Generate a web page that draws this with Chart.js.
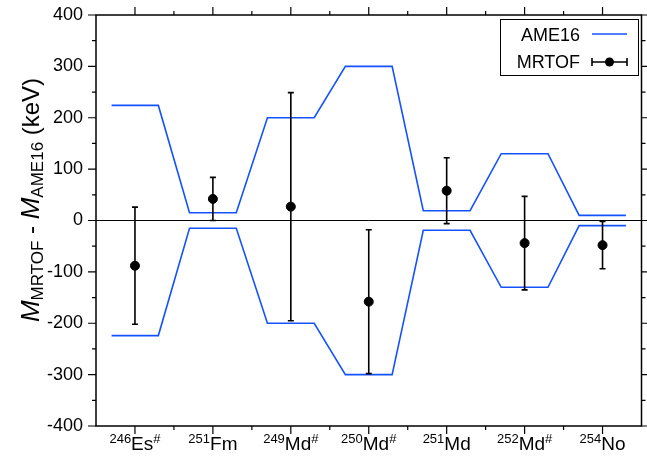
<!DOCTYPE html>
<html>
<head>
<meta charset="utf-8">
<script src="https://cdn.jsdelivr.net/npm/chart.js@4.4.1/dist/chart.umd.min.js"></script>
<style>
  html, body { margin: 0; padding: 0; background: #fff; }
  #wrap { width: 647px; height: 459px; }
</style>
</head>
<body>
<div id="wrap"><canvas id="chart"></canvas></div>
<script>
// nuclides, in plot order
const massNumbers = ['246', '251', '249', '250', '251', '252', '254'];
const elements = ['Es', 'Fm', 'Md', 'Md', 'Md', 'Md', 'No'];
const extrapolated = [true, false, true, true, false, true, false]; // '#' marks
// AME16 uncertainty band (keV), drawn as +/-
const ame16Unc = [224, 15, 200, 300, 19, 130, 10];
// MRTOF - AME16 (keV) and its error
const mrtofDiff = [-88, 42, 27, -158, 58, -44, -48];
const mrtofErr = [114, 42, 222, 140, 64, 91, 46];
const yTicks = [-400, -300, -200, -100, 0, 100, 200, 300, 400];

const BLUE = '#1552ff';
const FONT = 'Helvetica, "Liberation Sans", Arial, sans-serif';
const halfWidth = 0.3;

const upper = [], lower = [];
ame16Unc.forEach((u, i) => {
  upper.push({ x: i - halfWidth, y: u }, { x: i + halfWidth, y: u });
  lower.push({ x: i - halfWidth, y: -u }, { x: i + halfWidth, y: -u });
});
const points = mrtofDiff.map((v, i) => ({ x: i, y: v }));

const framePlugin = {
  id: 'frame',
  beforeDatasetsDraw(chart) {
    const { ctx, chartArea: a, scales: { y } } = chart;
    const y0 = y.getPixelForValue(0);
    ctx.save();
    ctx.strokeStyle = '#000';
    ctx.lineWidth = 1;
    ctx.beginPath();
    ctx.moveTo(a.left, y0);
    ctx.lineTo(a.right, y0);
    ctx.stroke();
    ctx.restore();
  },
  afterDatasetsDraw(chart) {
    const { ctx, scales: { x, y } } = chart;
    ctx.save();
    ctx.strokeStyle = '#000';
    ctx.lineWidth = 1.6;
    mrtofDiff.forEach((v, i) => {
      const px = x.getPixelForValue(i);
      const top = y.getPixelForValue(v + mrtofErr[i]);
      const bot = y.getPixelForValue(v - mrtofErr[i]);
      ctx.beginPath();
      ctx.moveTo(px, top); ctx.lineTo(px, bot);
      ctx.moveTo(px - 3, top); ctx.lineTo(px + 3, top);
      ctx.moveTo(px - 3, bot); ctx.lineTo(px + 3, bot);
      ctx.stroke();
    });
    ctx.restore();
  },
  afterDraw(chart) {
    const { ctx, chartArea: a, scales: { x, y } } = chart;
    ctx.save();
    ctx.strokeStyle = '#000';
    ctx.lineWidth = 1.5;
    ctx.strokeRect(a.left, a.top, a.right - a.left, a.bottom - a.top);

    // ticks, all outward
    ctx.lineWidth = 1.2;
    ctx.beginPath();
    for (let v = -400; v <= 400; v += 50) {
      const py = y.getPixelForValue(v);
      const len = v % 100 === 0 ? 8 : 4;
      ctx.moveTo(a.left, py); ctx.lineTo(a.left - len, py);
      ctx.moveTo(a.right, py); ctx.lineTo(a.right + len, py);
    }
    for (let v = 0; v <= 6; v += 0.5) {
      const px = x.getPixelForValue(v);
      const len = Number.isInteger(v) ? 8 : 4;
      ctx.moveTo(px, a.bottom); ctx.lineTo(px, a.bottom + len);
      ctx.moveTo(px, a.top); ctx.lineTo(px, a.top - len);
    }
    ctx.stroke();

    // category labels with superscripts
    ctx.fillStyle = '#000';
    ctx.textBaseline = 'alphabetic';
    const big = '19px ' + FONT, small = '13px ' + FONT;
    massNumbers.forEach((m, i) => {
      const parts = [[m, small, -7], [elements[i], big, 0]];
      if (extrapolated[i]) parts.push(['#', small, -7]);
      let w = 0;
      parts.forEach(p => { ctx.font = p[1]; w += ctx.measureText(p[0]).width; });
      let cx = x.getPixelForValue(i) - w / 2;
      const base = a.bottom + 24;
      parts.forEach(p => {
        ctx.font = p[1];
        ctx.fillText(p[0], cx, base + p[2]);
        cx += ctx.measureText(p[0]).width;
      });
    });

    // y title
    ctx.save();
    ctx.translate(39, 200);
    ctx.rotate(-Math.PI / 2);
    const tBig = '24px ' + FONT, tIt = 'italic 26px ' + FONT, tSub = '17px ' + FONT;
    const tParts = [['M', tIt, 0], ['MRTOF', tSub, 4], [' - ', tBig, 0], ['M', tIt, 0], ['AME16', tSub, 4], [' (keV)', tBig, 0]];
    let tw = 0;
    tParts.forEach(p => { ctx.font = p[1]; tw += ctx.measureText(p[0]).width; });
    let tx = -tw / 2;
    tParts.forEach(p => {
      ctx.font = p[1];
      ctx.fillText(p[0], tx, p[2]);
      tx += ctx.measureText(p[0]).width;
    });
    ctx.restore();

    // legend
    ctx.fillStyle = '#fff';
    ctx.fillRect(500, 19, 138, 56);
    ctx.lineWidth = 1;
    ctx.strokeRect(500.5, 19.5, 138, 56);
    ctx.fillStyle = '#000';
    ctx.font = '18px ' + FONT;
    ctx.textAlign = 'right';
    ctx.fillText('AME16', 580, 41);
    ctx.fillText('MRTOF', 580, 68);
    ctx.strokeStyle = BLUE;
    ctx.lineWidth = 1.6;
    ctx.beginPath(); ctx.moveTo(592, 34); ctx.lineTo(627, 34); ctx.stroke();
    ctx.strokeStyle = '#000';
    ctx.beginPath();
    ctx.moveTo(592, 62); ctx.lineTo(627, 62);
    ctx.moveTo(592, 58); ctx.lineTo(592, 66);
    ctx.moveTo(627, 58); ctx.lineTo(627, 66);
    ctx.stroke();
    ctx.beginPath(); ctx.arc(609.5, 62, 4.5, 0, Math.PI * 2); ctx.fill();
    ctx.restore();
  }
};

new Chart(document.getElementById('chart'), {
  type: 'scatter',
  data: {
    datasets: [
      { type: 'line', data: upper, borderColor: BLUE, borderWidth: 1.6, pointRadius: 0, fill: false, tension: 0 },
      { type: 'line', data: lower, borderColor: BLUE, borderWidth: 1.6, pointRadius: 0, fill: false, tension: 0 },
      { data: points, backgroundColor: '#000', borderColor: '#000', pointRadius: 4.5 }
    ]
  },
  options: {
    responsive: true,
    maintainAspectRatio: false,
    animation: false,
    events: [],
    layout: { padding: { top: 15, right: 2, left: 0, bottom: 0 } },
    plugins: { legend: { display: false }, tooltip: { enabled: false } },
    scales: {
      x: {
        type: 'linear', min: -0.5, max: 6.5,
        ticks: { display: false },
        grid: { display: false, drawTicks: false },
        border: { display: false },
        afterFit(s) { s.height = 33; s.paddingLeft = 0; s.paddingRight = 0; }
      },
      y: {
        min: -400, max: 400,
        afterBuildTicks(s) { s.ticks = yTicks.map(v => ({ value: v })); },
        ticks: { color: '#000', padding: 13, font: { size: 18, family: FONT } },
        grid: { display: false, drawTicks: false },
        border: { display: false },
        afterFit(s) { s.width = 96; s.paddingTop = 0; s.paddingBottom = 0; }
      }
    }
  },
  plugins: [framePlugin]
});
</script>
</body>
</html>
